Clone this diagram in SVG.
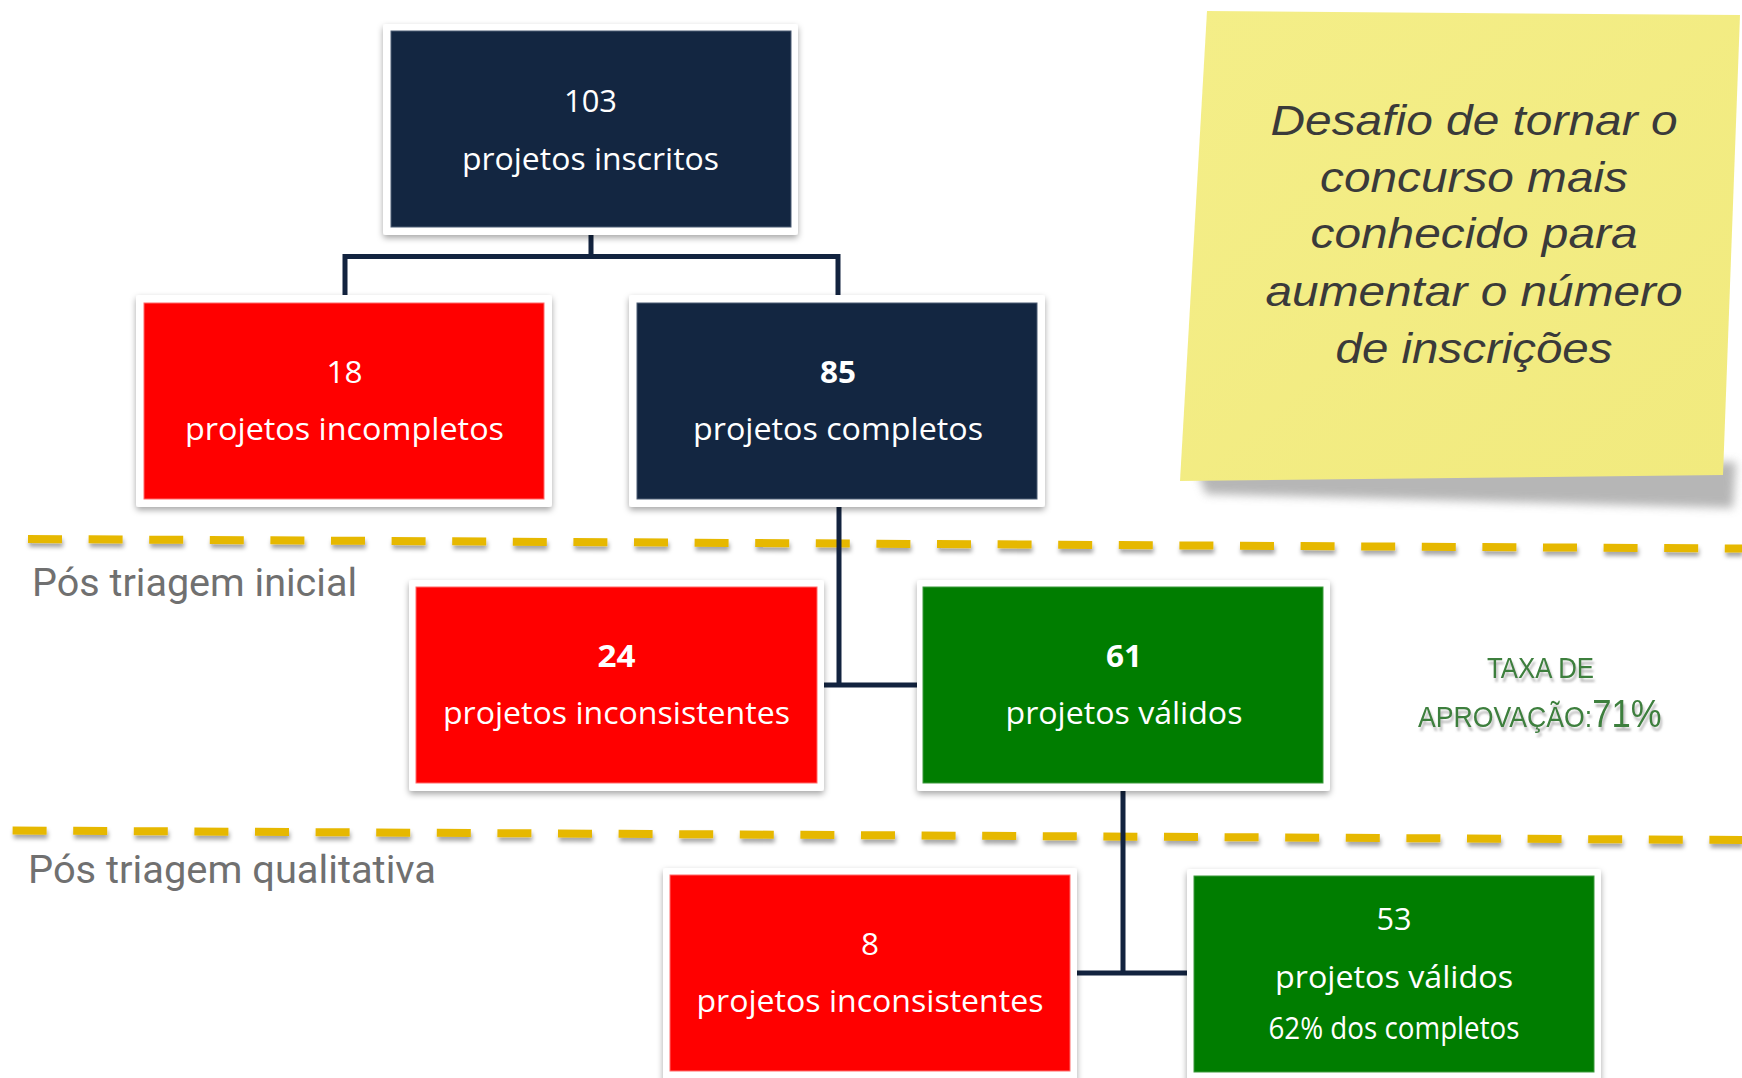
<svg xmlns="http://www.w3.org/2000/svg" width="1742" height="1078" viewBox="0 0 1742 1078">
<defs>
<style>
.frame{fill:#ffffff;filter:url(#boxshadow)}
.navy{fill:#132641;stroke:#4d5d75;stroke-width:1}
.red{fill:#ff0000;stroke:#ff6b6b;stroke-width:1}
.green{fill:#007d00;stroke:#3c9a3c;stroke-width:1}
.t{font-family:"Open Sans","Noto Sans",sans-serif;fill:#ffffff;text-anchor:middle;font-size:31px}
.b{font-weight:bold}
.conn{fill:none;stroke:#12233f;stroke-width:5;stroke-linejoin:miter}
.dash{fill:none;stroke:#e6b800;stroke-width:8;stroke-dasharray:34 26.6;filter:url(#dashshadow)}
.stage{font-family:Roboto,"Liberation Sans",sans-serif;fill:#707070;font-size:38px}
.note{font-family:"Liberation Sans",Arial,sans-serif;font-style:italic;fill:#3a3a3a;font-size:43px;text-anchor:middle}
.taxa{font-family:"Liberation Sans",Arial,sans-serif;fill:#3d7f3d;filter:url(#txtshadow)}
</style>
<filter id="boxshadow" x="-10%" y="-10%" width="120%" height="125%">
<feDropShadow dx="0" dy="3" stdDeviation="3" flood-color="#000" flood-opacity="0.35"/>
</filter>
<filter id="dashshadow" x="-5%" y="-200%" width="110%" height="500%">
<feDropShadow dx="1" dy="4" stdDeviation="2" flood-color="#000" flood-opacity="0.35"/>
</filter>
<filter id="txtshadow" x="-10%" y="-20%" width="130%" height="160%">
<feDropShadow dx="2" dy="4" stdDeviation="1.2" flood-color="#777" flood-opacity="0.5"/>
</filter>
<filter id="noteshadow" x="-10%" y="-50%" width="120%" height="200%">
<feGaussianBlur stdDeviation="5"/>
</filter>
<linearGradient id="notegrad" x1="0" y1="0" x2="1" y2="1">
<stop offset="0" stop-color="#f4ee88"/>
<stop offset="1" stop-color="#f1ea7e"/>
</linearGradient>
</defs>
<rect width="1742" height="1078" fill="#ffffff"/>

<g id="sticky-note">
<polygon points="1196,468 1736,462 1733,508 1206,494" fill="#9e9e9e" opacity="0.75" filter="url(#noteshadow)"/>
<polygon points="1207,11 1740,15 1723,475 1180,481" fill="url(#notegrad)"/>
<text class="note"><tspan x="1474" y="135" textLength="407" lengthAdjust="spacingAndGlyphs">Desafio de tornar o</tspan><tspan x="1474" y="192" textLength="308" lengthAdjust="spacingAndGlyphs">concurso mais</tspan><tspan x="1474" y="248" textLength="327" lengthAdjust="spacingAndGlyphs">conhecido para</tspan><tspan x="1474" y="306" textLength="417" lengthAdjust="spacingAndGlyphs">aumentar o número</tspan><tspan x="1474" y="363" textLength="277" lengthAdjust="spacingAndGlyphs">de inscrições</tspan></text>
</g>

<g id="dividers">
<line class="dash" x1="28" y1="539" x2="1742" y2="548.5"/>
<line class="dash" x1="12.6" y1="830.5" x2="1742" y2="840"/>
</g>

<g id="stage-labels">
<text class="stage" x="32" y="596" textLength="325" lengthAdjust="spacingAndGlyphs">Pós triagem inicial</text>
<text class="stage" x="28" y="883" font-size="36" textLength="408" lengthAdjust="spacingAndGlyphs">Pós triagem qualitativa</text>
</g>

<g id="taxa">
<text class="taxa" transform="translate(1487,678) scale(0.86,1)" font-size="30">TAXA DE</text>
<text class="taxa" transform="translate(1418,727) scale(0.888,1)" font-size="30">APROVAÇÃO:<tspan font-size="39">71%</tspan></text>
</g>

<g id="connectors">
<path class="conn" d="M591,235 V256.5 M345,295 V256.5 H838 V295"/>
<path class="conn" d="M839,507 V685 M824,685 H917"/>
<path class="conn" d="M1123,791 V973 M1076,973 H1187"/>
</g>

<g id="node-103">
<rect class="frame" x="383" y="24" width="415" height="211" rx="3"/>
<rect class="navy" x="391" y="31" width="400" height="196"/>
<text class="t" x="590.5" y="112" textLength="53" lengthAdjust="spacingAndGlyphs">103</text>
<text class="t" x="590.5" y="170" textLength="257" lengthAdjust="spacingAndGlyphs">projetos inscritos</text>
</g>

<g id="node-18">
<rect class="frame" x="136" y="295" width="416" height="212" rx="3"/>
<rect class="red" x="144" y="303" width="400" height="196"/>
<text class="t" x="344.5" y="383" textLength="36" lengthAdjust="spacingAndGlyphs">18</text>
<text class="t" x="344.5" y="440" textLength="319" lengthAdjust="spacingAndGlyphs">projetos incompletos</text>
</g>

<g id="node-85">
<rect class="frame" x="629" y="295" width="416" height="212" rx="3"/>
<rect class="navy" x="637" y="303" width="400" height="196"/>
<text class="t b" x="838" y="383" textLength="36" lengthAdjust="spacingAndGlyphs">85</text>
<text class="t" x="838" y="440" textLength="290" lengthAdjust="spacingAndGlyphs">projetos completos</text>
</g>

<g id="node-24">
<rect class="frame" x="409" y="580" width="415" height="211" rx="3"/>
<rect class="red" x="416" y="587" width="401" height="196"/>
<text class="t b" x="616.5" y="667" textLength="38" lengthAdjust="spacingAndGlyphs">24</text>
<text class="t" x="616.5" y="724" textLength="347" lengthAdjust="spacingAndGlyphs">projetos inconsistentes</text>
</g>

<g id="node-61">
<rect class="frame" x="917" y="580" width="413" height="211" rx="3"/>
<rect class="green" x="923" y="587" width="400" height="196"/>
<text class="t b" x="1124" y="667" textLength="36" lengthAdjust="spacingAndGlyphs">61</text>
<text class="t" x="1124" y="724" textLength="237" lengthAdjust="spacingAndGlyphs">projetos válidos</text>
</g>

<g id="node-8">
<rect class="frame" x="663" y="868" width="414" height="214" rx="3"/>
<rect class="red" x="670" y="875" width="400" height="196"/>
<text class="t" x="870" y="955" textLength="18" lengthAdjust="spacingAndGlyphs">8</text>
<text class="t" x="870" y="1012" textLength="347" lengthAdjust="spacingAndGlyphs">projetos inconsistentes</text>
</g>

<g id="node-53">
<rect class="frame" x="1187" y="869" width="414" height="214" rx="3"/>
<rect class="green" x="1194" y="876" width="400" height="196"/>
<text class="t" x="1394" y="930" textLength="35" lengthAdjust="spacingAndGlyphs">53</text>
<text class="t" x="1394" y="988" textLength="238" lengthAdjust="spacingAndGlyphs">projetos válidos</text>
<text class="t" x="1394" y="1039" font-size="25" textLength="251" lengthAdjust="spacingAndGlyphs">62% dos completos</text>
</g>
</svg>
